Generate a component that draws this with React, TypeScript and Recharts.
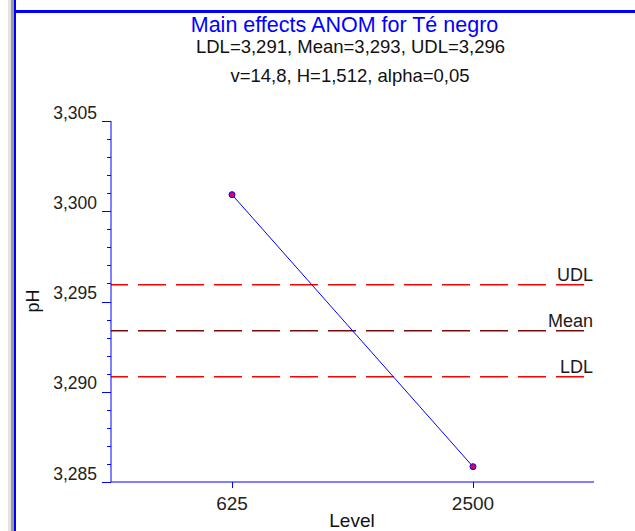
import React from 'react';
import { LineChart, Line, XAxis, YAxis, ReferenceLine } from 'recharts';

const levels = ['625', '2500'];
const phMeans = [3.30092, 3.28585];
const yTicks = [
  3.285, 3.286, 3.287, 3.288, 3.289, 3.29, 3.291, 3.292, 3.293, 3.294, 3.295,
  3.296, 3.297, 3.298, 3.299, 3.3, 3.301, 3.302, 3.303, 3.304, 3.305,
];
const limitNames = ['UDL', 'Mean', 'LDL'];
const limitValues = [3.29593, 3.29338, 3.29083];
const limitColors = ['#ff0000', '#7a0a0a', '#ff0000'];
const titleText = 'Main effects ANOM for Té negro';
const subtitleLines = ['LDL=3,291, Mean=3,293, UDL=3,296', 'v=14,8, H=1,512, alpha=0,05'];
const xLabel = 'Level';
const yLabel = 'pH';

const data = levels.map((level, i) => ({ level, ph: phMeans[i] }));

const FONT = '"Liberation Sans", Arial, sans-serif';

const YTick = (props: any) => {
  const { x, y, payload } = props;
  const v = payload.value as number;
  const major = Math.round(v * 1000) % 5 === 0;
  const yy = Math.round(y) + 0.5;
  return (
    <g>
      <line x1={x - (major ? 9 : 4)} x2={x} y1={yy} y2={yy} stroke="#0000ff" strokeWidth={1} />
      {major && (
        <text x={x - 14} y={y - 2.5} textAnchor="end" fontSize={17.5} fill="#222" fontFamily={FONT}>
          {v.toFixed(3).replace('.', ',')}
        </text>
      )}
    </g>
  );
};

const XTick = (props: any) => {
  const { x, y, payload } = props;
  const xx = Math.round(x) + 0.5;
  return (
    <g>
      <line x1={xx} x2={xx} y1={y} y2={y + 6} stroke="#0000ff" strokeWidth={1} />
      <text x={x} y={y + 28} textAnchor="middle" fontSize={19} fill="#222" fontFamily={FONT}>
        {payload.value}
      </text>
    </g>
  );
};

const makeRefLabel = (name: string) => (props: any) => {
  const vb = props.viewBox || {};
  return (
    <text
      x={vb.x + vb.width - 1}
      y={vb.y - 4}
      textAnchor="end"
      fontSize={18}
      fill="#1a1a1a"
      fontFamily={FONT}
    >
      {name}
    </text>
  );
};

export default function App() {
  return (
    <div style={{ position: 'absolute', left: 0, top: 0, width: 635, height: 531, background: '#fff' }}>
      <div style={{ position: 'absolute', left: 8, top: 0, width: 3, height: 531, background: '#e2e2e2' }} />
      <div style={{ position: 'absolute', left: 11, top: 0, width: 3, height: 531, background: '#9a9a9a' }} />
      <div style={{ position: 'absolute', left: 14, top: 0, width: 2, height: 531, background: '#0000ff' }} />
      <div style={{ position: 'absolute', left: 14, top: 10, width: 621, height: 3, background: '#0000ff' }} />
      <div style={{ position: 'absolute', left: 0, top: 0 }}>
        <LineChart
          width={635}
          height={531}
          data={data}
          margin={{ top: 121, right: 41, bottom: 19, left: 51 }}
          style={{ fontFamily: FONT }}
        >
          <XAxis
            dataKey="level"
            type="category"
            padding={{ left: 121, right: 121 }}
            axisLine={{ stroke: '#0000ff', strokeWidth: 1 }}
            tickLine={false}
            tickSize={0}
            tickMargin={0}
            tick={<XTick />}
            height={30}
            interval={0}
          />
          <YAxis
            type="number"
            domain={[3.285, 3.305]}
            ticks={yTicks}
            interval={0}
            width={60}
            axisLine={{ stroke: '#0000ff', strokeWidth: 1 }}
            tickLine={false}
            tickSize={0}
            tickMargin={0}
            tick={<YTick />}
            allowDataOverflow
          />
          {limitValues.map((v, i) => (
            <ReferenceLine
              key={limitNames[i]}
              y={v}
              stroke={limitColors[i]}
              strokeWidth={1.5}
              strokeDasharray="28 10"
              strokeDashoffset={11}
              label={makeRefLabel(limitNames[i])}
            />
          ))}
          <Line
            dataKey="ph"
            stroke="#0000ff"
            strokeWidth={1}
            dot={{ r: 3, fill: '#e0005a', stroke: '#0000ff', strokeWidth: 1 }}
            isAnimationActive={false}
          />
        </LineChart>
      </div>
      <svg
        width={635}
        height={531}
        style={{ position: 'absolute', left: 0, top: 0, pointerEvents: 'none' }}
      >
        <text x={344.5} y={31.7} textAnchor="middle" fontSize={21.5} fill="#0000ff" fontFamily={FONT}>
          {titleText}
        </text>
        <text x={350.5} y={53.3} textAnchor="middle" fontSize={18.5} fill="#111" fontFamily={FONT}>
          {subtitleLines[0]}
        </text>
        <text x={350} y={81.5} textAnchor="middle" fontSize={18.5} fill="#111" fontFamily={FONT}>
          {subtitleLines[1]}
        </text>
        <text
          x={39}
          y={301}
          transform="rotate(-90 39 301)"
          textAnchor="middle"
          fontSize={18}
          fill="#111"
          fontFamily={FONT}
        >
          {yLabel}
        </text>
        <text x={352} y={527} textAnchor="middle" fontSize={19} fill="#111" fontFamily={FONT}>
          {xLabel}
        </text>
      </svg>
    </div>
  );
}
